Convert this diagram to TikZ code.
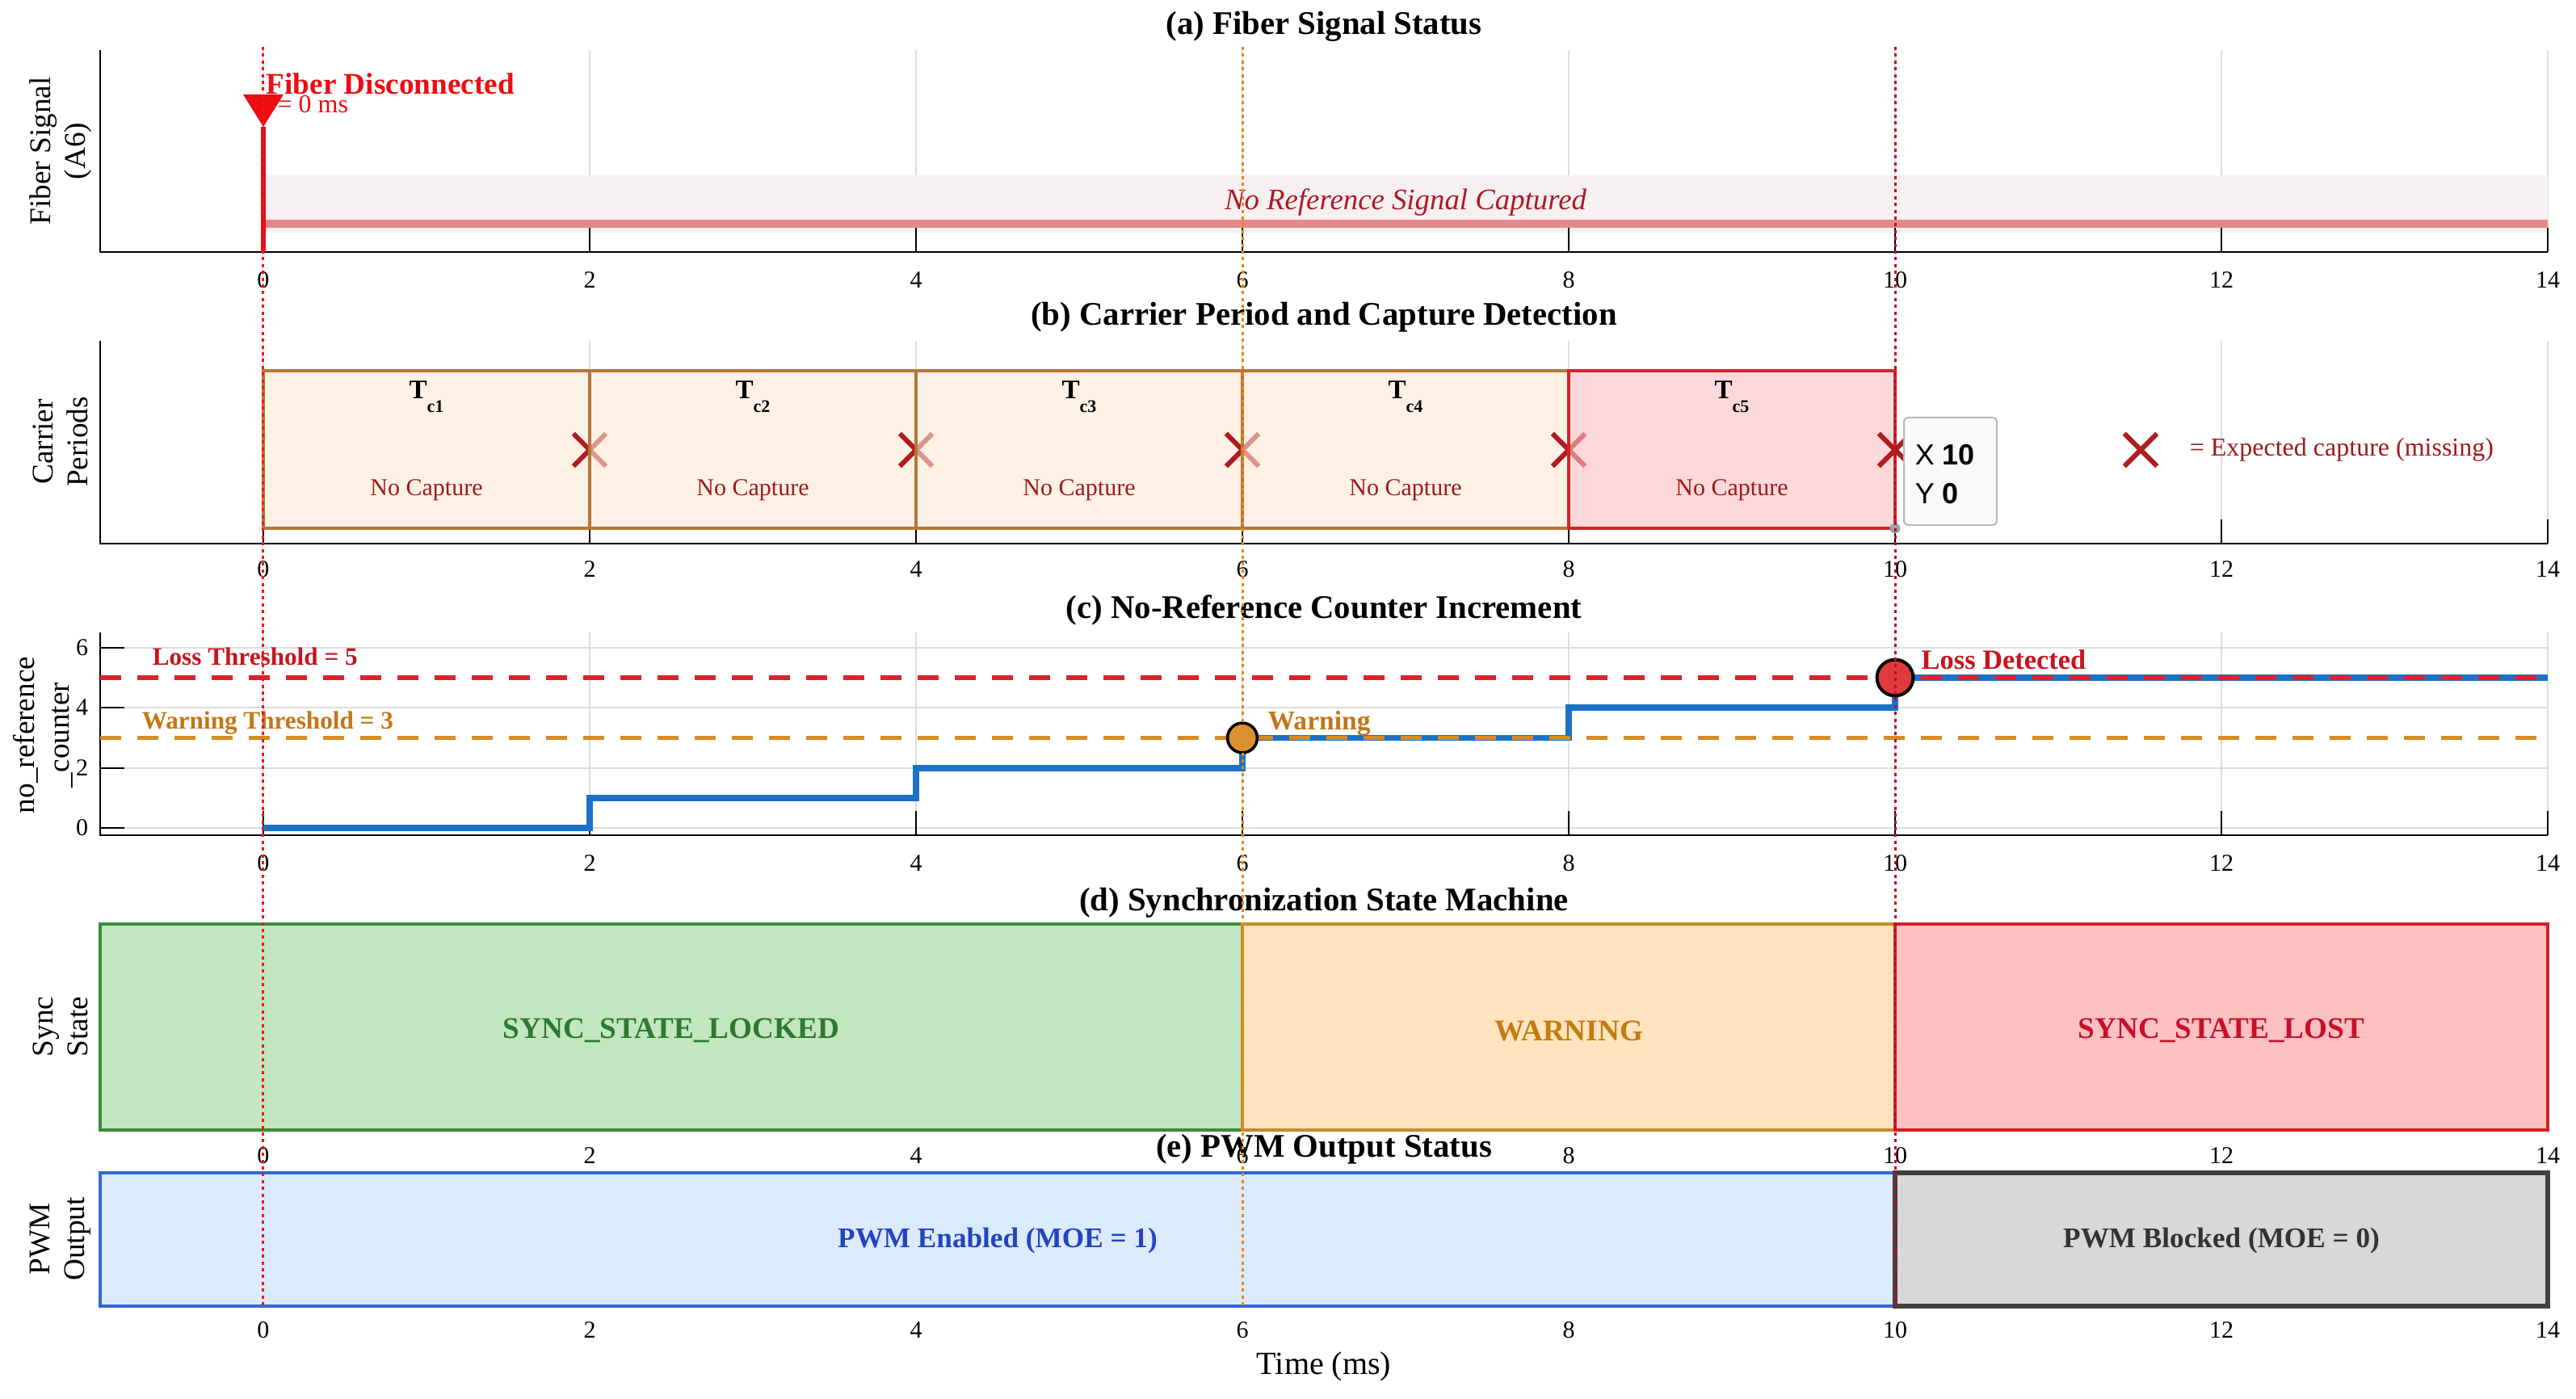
\documentclass[tikz,border=0pt]{standalone}
\usepackage{fontspec}
\setmainfont{Liberation Serif}
\newfontfamily\tipfont{Liberation Sans}
\usetikzlibrary{shapes.misc}
\definecolor{gridc}{RGB}{222,222,222}
\definecolor{bandc}{RGB}{247,240,240}
\definecolor{bandline}{RGB}{228,136,138}
\definecolor{sigred}{RGB}{236,12,18}
\definecolor{italred}{RGB}{172,26,38}
\definecolor{boxbrown}{RGB}{184,116,56}
\definecolor{boxfill}{RGB}{252,232,213}
\definecolor{boxred}{RGB}{212,36,40}
\definecolor{boxredfill}{RGB}{252,190,194}
\definecolor{xred}{RGB}{176,28,32}
\definecolor{capred}{RGB}{155,27,27}
\definecolor{tipfill}{RGB}{249,249,252}
\definecolor{lossred}{RGB}{222,34,42}
\definecolor{warnor}{RGB}{217,138,32}
\definecolor{warntext}{RGB}{196,118,22}
\definecolor{lossdet}{RGB}{200,20,30}
\definecolor{stepblue}{RGB}{26,114,200}
\definecolor{warncirc}{RGB}{218,146,48}
\definecolor{losscirc}{RGB}{224,58,60}
\definecolor{greenfill}{RGB}{194,230,192}
\definecolor{greenline}{RGB}{58,140,58}
\definecolor{greentext}{RGB}{44,122,48}
\definecolor{orfill}{RGB}{255,228,191}
\definecolor{orline}{RGB}{200,138,40}
\definecolor{ortext}{RGB}{194,124,14}
\definecolor{redfill}{RGB}{253,192,195}
\definecolor{redline}{RGB}{214,30,40}
\definecolor{redtext}{RGB}{200,16,40}
\definecolor{bluefill}{RGB}{219,234,253}
\definecolor{blueline}{RGB}{50,104,210}
\definecolor{bluetext}{RGB}{34,68,190}
\definecolor{grayfill}{RGB}{216,216,216}
\definecolor{grayline}{RGB}{64,64,64}
\definecolor{vred}{RGB}{232,26,28}
\definecolor{vor}{RGB}{226,138,20}
\definecolor{vdark}{RGB}{182,18,42}
\begin{document}
\begin{tikzpicture}[x=50.5pt,y=-0.25pt,
  gridln/.style={draw=gridc,line width=0.3pt},
  axln/.style={draw=black,line width=0.7pt},
  tickln/.style={draw=black,line width=0.3pt},
  ticklab/.style={font=\fontsize{7.5}{9}\selectfont,inner sep=0pt},
  ttl/.style={font=\bfseries\fontsize{10.2}{12}\selectfont,inner sep=0pt},
  ylab/.style={font=\fontsize{9.3}{10.8}\selectfont,rotate=90,align=center,inner sep=0pt},
  vdot/.style={line width=0.75pt,dash pattern=on 1pt off 1.1pt},
  xmk/.style={cross out,draw=xred,line width=1.5pt,minimum size=8.6pt,inner sep=0pt},
  statelab/.style={font=\bfseries\fontsize{9.3}{11}\selectfont,inner sep=0pt},
  pwmlab/.style={font=\bfseries\fontsize{8.8}{10}\selectfont,inner sep=0pt},
  capt/.style={font=\fontsize{7.5}{9}\selectfont,text=capred,inner sep=0pt},
  tclab/.style={font=\bfseries\fontsize{8.3}{10}\selectfont,anchor=base,inner sep=0pt}]
\useasboundingbox (-1.61386,0) rectangle (14.17327,1732);
\fill[white] (-1.61386,0) rectangle (14.17327,1732);
% ================= Panel (a) =================
\foreach \t in {0,2,...,14} \draw[gridln] (\t,62) -- (\t,312);
\fill[bandc] (0,217) rectangle (14,288);
\draw[bandline,line width=2.5pt] (0,277) -- (14,277);
\foreach \t in {0,2,...,14} \draw[tickln] (\t,312) -- (\t,282);
\draw[axln] (-1,62) -- (-1,312) -- (14,312);
\node[font=\itshape\fontsize{9.2}{11}\selectfont,text=italred,inner sep=0pt] (nrs) at (7,250) {No Reference Signal Captured};
\node[anchor=base west,inner sep=0pt,text=sigred,font=\fontsize{8}{9}\selectfont] (t0) at (0,140) {t = 0 ms};
\draw[sigred,line width=1.6pt] (0,157) -- (0,312);
\fill[sigred] (-0.124,117) -- (0.124,117) -- (0,157) -- cycle;
\node[anchor=base west,inner sep=0pt,text=sigred,font=\bfseries\fontsize{9.3}{11}\selectfont] (fd) at (0.015,117) {Fiber Disconnected};
\foreach \t in {0,2,...,14} \node[ticklab] (ta\t) at (\t,347) {\t};
\node[ttl] (titlea) at (6.5,33) {(a) Fiber Signal Status};
\node[ylab] (yla) at (-1.2426,187) {Fiber Signal\\(A6)};
% ================= Panel (b) =================
\foreach \t in {0,2,...,14} \draw[gridln] (\t,422) -- (\t,673);
\foreach \t in {0,2,...,14} \draw[tickln] (\t,673) -- (\t,643);
\draw[axln] (-1,422) -- (-1,673) -- (14,673);
\foreach \i in {1,2,3,4}{
  \pgfmathtruncatemacro{\a}{2*\i-2}
  \pgfmathtruncatemacro{\b}{2*\i}
  \filldraw[fill=boxfill,fill opacity=0.6,draw=boxbrown,line width=0.8pt] (\a,459) rectangle (\b,654);
  \node[xmk] (xm\i) at (\b,557) {};
}
\filldraw[fill=boxredfill,fill opacity=0.6,draw=boxred,line width=1.2pt] (8,459) rectangle (10,654);
\node[xmk] (xm5) at (10,557) {};
\foreach \i in {1,...,5}{
  \pgfmathtruncatemacro{\c}{2*\i-1}
  \node[tclab] (tc\i) at (\c,494) {T\raisebox{-4.2pt}{\fontsize{5.5}{6}\selectfont c\i}};
  \node[capt] (nc\i) at (\c,607) {No Capture};
}
\draw[draw=gray!55,fill=tipfill,line width=0.5pt,rounded corners=1.2pt] (10.0545,517) rectangle (10.6238,650);
\node[anchor=base west,inner sep=0pt,font=\tipfont\fontsize{9}{10}\selectfont] (tipx) at (10.119,575) {X \textbf{10}};
\node[anchor=base west,inner sep=0pt,font=\tipfont\fontsize{9}{10}\selectfont] (tipy) at (10.119,623) {Y \textbf{0}};
\fill[gray!75] (10,654) circle[radius=1.6pt];
\node[xmk] (legx) at (11.505,557) {};
\node[anchor=west,inner sep=0pt,font=\fontsize{8}{9}\selectfont,text=capred] (legt) at (11.802,557) {= Expected capture (missing)};
\foreach \t in {0,2,...,14} \node[ticklab] (tb\t) at (\t,705) {\t};
\node[ttl] (titleb) at (6.5,393) {(b) Carrier Period and Capture Detection};
\node[ylab] (ylb) at (-1.2426,547) {Carrier\\Periods};
% ================= Panel (c) =================
\foreach \t in {0,2,...,14} \draw[gridln] (\t,783) -- (\t,1034);
\foreach \v/\y in {0/1025,2/951,4/876,6/802}{
  \draw[gridln] (-1,\y) -- (14,\y);
  \draw[tickln] (-1,\y) -- (-0.8515,\y);
  \node[ticklab,anchor=east] (yc\v) at (-1.07,\y) {\v};
}
\foreach \t in {0,2,...,14} \draw[tickln] (\t,1034) -- (\t,1004);
\draw[axln] (-1,783) -- (-1,1034) -- (14,1034);
\draw[stepblue,line width=1.9pt] (0,1025) -- (2,1025) -- (2,988) -- (4,988) -- (4,951) -- (6,951) -- (6,913.5) -- (8,913.5) -- (8,876) -- (10,876) -- (10,839) -- (14,839);
\draw[lossred,line width=1.3pt,dash pattern=on 6.5pt off 5pt] (-1,839) -- (14,839);
\draw[warnor,line width=1.3pt,dash pattern=on 6.5pt off 5pt] (-1,913.5) -- (14,913.5);
\node[anchor=base west,inner sep=0pt,font=\bfseries\fontsize{7.8}{9}\selectfont,text=lossdet] (lt) at (-0.683,823) {Loss Threshold = 5};
\node[anchor=base west,inner sep=0pt,font=\bfseries\fontsize{7.8}{9}\selectfont,text=warntext] (wt) at (-0.7475,902) {Warning Threshold = 3};
\filldraw[fill=warncirc,draw=black,line width=0.9pt] (6,913.5) circle[radius=4.6pt];
\filldraw[fill=losscirc,draw=black,line width=1pt] (10,839) circle[radius=5.6pt];
\node[anchor=base west,inner sep=0pt,font=\bfseries\fontsize{8.4}{10}\selectfont,text=warntext] (wl) at (6.153,903) {Warning};
\node[anchor=base west,inner sep=0pt,font=\bfseries\fontsize{8.6}{10}\selectfont,text=lossdet] (ld) at (10.158,828) {Loss Detected};
\foreach \t in {0,2,...,14} \node[ticklab] (tcc\t) at (\t,1069) {\t};
\node[ttl] (titlec) at (6.5,755) {(c) No-Reference Counter Increment};
\node[ylab] (ylc) at (-1.351,910) {no\_reference\\\_counter};
% ================= Panel (d) =================
\filldraw[fill=greenfill,draw=greenline,line width=1pt] (-1,1144) rectangle (6,1399);
\filldraw[fill=orfill,draw=orline,line width=1pt] (6,1144) rectangle (10,1399);
\filldraw[fill=redfill,draw=redline,line width=1pt] (10,1144) rectangle (14,1399);
\node[statelab,text=greentext] (sl) at (2.5,1276) {SYNC\_STATE\_LOCKED};
\node[statelab,text=ortext] (sw) at (8,1276) {WARNING};
\node[statelab,text=redtext] (sx) at (12,1276) {SYNC\_STATE\_LOST};
\foreach \t in {0,2,...,14} \node[ticklab] (td\t) at (\t,1431) {\t};
\node[ttl] (titled) at (6.5,1118) {(d) Synchronization State Machine};
\node[ylab] (yld) at (-1.2426,1271) {Sync\\State};
% ================= Panel (e) =================
\filldraw[fill=bluefill,draw=blueline,line width=0.9pt] (-1,1452) rectangle (10,1617);
\filldraw[fill=grayfill,draw=grayline,line width=1.5pt] (10,1452) rectangle (14,1617);
\node[pwmlab,text=bluetext] (pe) at (4.5,1536) {PWM Enabled (MOE = 1)};
\node[pwmlab,text=black!80] (pb) at (12,1536) {PWM Blocked (MOE = 0)};
\foreach \t in {0,2,...,14} \node[ticklab] (te\t) at (\t,1647) {\t};
\node[ttl] (titlee) at (6.5,1423) {(e) PWM Output Status};
\node[font=\fontsize{10}{12}\selectfont,inner sep=0pt] (xl) at (6.5,1692) {Time (ms)};
\node[ylab] (yle) at (-1.2426,1534) {PWM\\Output};
% ================= event lines =================
\draw[vdot,draw=vred] (0,58) -- (0,1617);
\draw[vdot,draw=vor] (6,58) -- (6,1617);
\draw[vdot,draw=vdark] (10,58) -- (10,1617);
\end{tikzpicture}
\end{document}
